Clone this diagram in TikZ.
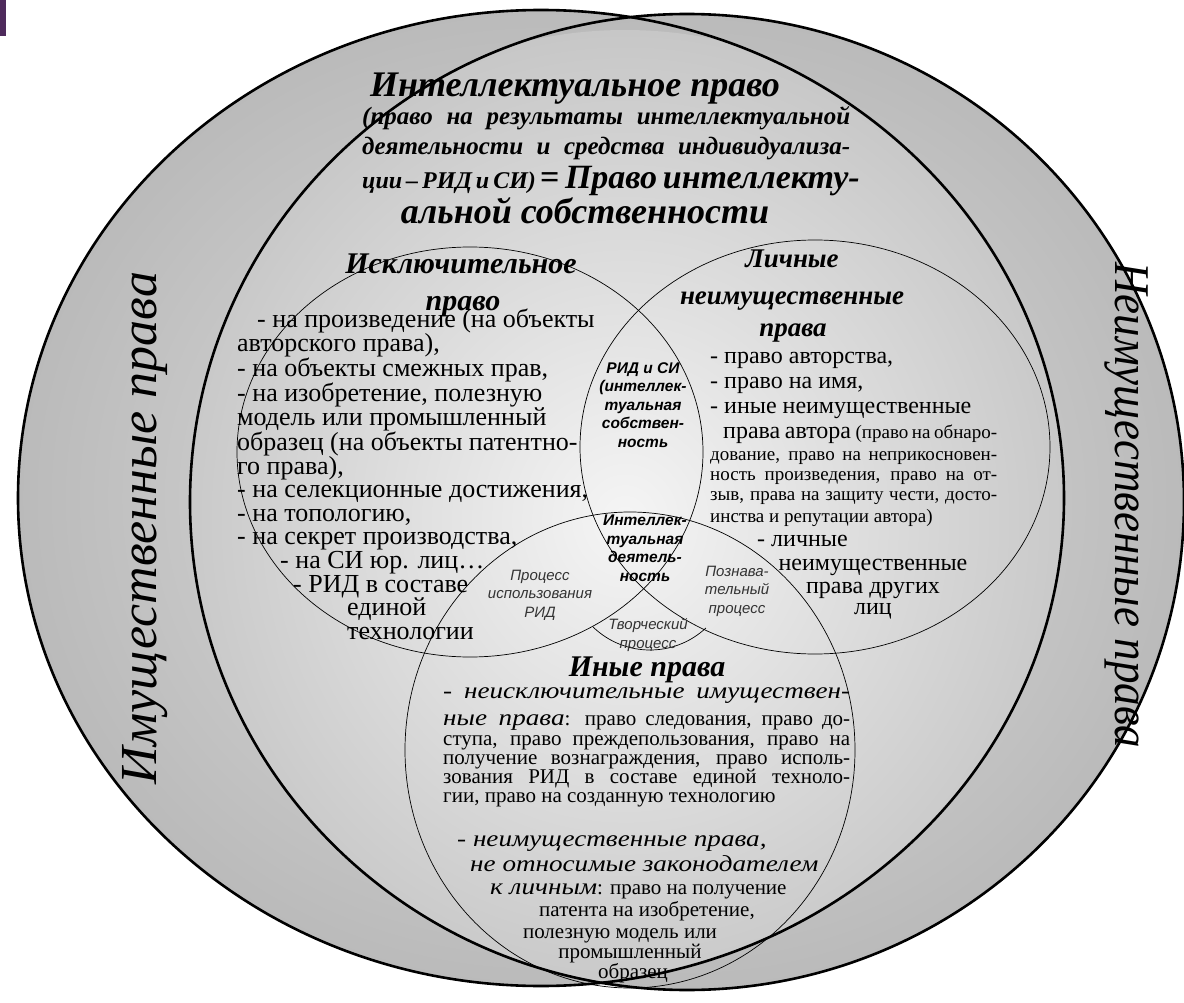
\documentclass[tikz,border=0pt]{standalone}
\usepackage{fontspec}
\setmainfont{Liberation Serif}
\newfontfamily\arialfont{Liberation Sans}
\newfontfamily\wideserif{Liberation Serif}[FakeStretch=1.18]
\newfontfamily\narrowserif{Liberation Serif}[FakeStretch=0.9]
\definecolor{barpurple}{HTML}{4E2A5C}

\begin{document}
\begin{tikzpicture}[x=1pt, y=-1pt,
    bigoval/.style={draw=black, line width=2.6pt},
    thinoval/.style={draw=black, line width=0.7pt},
    headtext/.style={font=\bfseries\itshape\fontsize{30}{33}\selectfont, inner sep=0pt},
    lichhead/.style={font=\bfseries\itshape\fontsize{27}{30}\selectfont, inner sep=0pt},
    bighead/.style={font=\bfseries\itshape\fontsize{36}{38}\selectfont, inner sep=0pt},
    subhead/.style={font=\bfseries\itshape\fontsize{25}{28}\selectfont, inner sep=0pt},
    bodytext/.style={font=\fontsize{24}{21.7}\selectfont, inner sep=0pt},
    excltext/.style={font=\fontsize{26}{23.6}\selectfont, inner sep=0pt},
    smalltext/.style={font=\fontsize{19}{20}\selectfont, inner sep=0pt},
    otherstext/.style={font=\fontsize{21}{19}\selectfont, inner sep=0pt},
    otheritalic/.style={font=\wideserif\itshape\fontsize{23}{23}\selectfont, inner sep=0pt},
    tinytext/.style={font=\arialfont\itshape\fontsize{15}{18.5}\selectfont, align=center, inner sep=0pt, text=black!80},
    tinybold/.style={font=\arialfont\bfseries\itshape\fontsize{15.5}{18.5}\selectfont, align=center, inner sep=0pt},
    sidetext/.style={font=\itshape\fontsize{52}{52}\selectfont, inner sep=0pt}
  ]
  \useasboundingbox (0,0) rectangle (1184,1003);
  \fill[barpurple] (0,0) rectangle (6,36);

  % === Внешние овалы ===
  \coordinate (lc) at (541,498);
  \coordinate (rc) at (687,502);
  \shade[inner color=gray!25, outer color=gray!54] (lc) ellipse [x radius=523, y radius=488];
  \shade[inner color=gray!25, outer color=gray!54] (rc) ellipse [x radius=497, y radius=488];
  \begin{scope}
    \clip (lc) ellipse [x radius=523, y radius=488];
    \clip (rc) ellipse [x radius=497, y radius=488];
    \shade[inner color=gray!8, outer color=gray!44] (625,520) ellipse [x radius=460, y radius=490];
  \end{scope}
  \draw[bigoval] (lc) ellipse [x radius=523, y radius=488];
  \draw[bigoval] (rc) ellipse [x radius=497, y radius=488];

  % === Внутренние круги ===
  \draw[thinoval] (470,452) ellipse [x radius=233, y radius=205];
  \draw[thinoval] (815,447) ellipse [x radius=235, y radius=207];
  \draw[thinoval] (630,750) ellipse [x radius=225, y radius=238];
  \coordinate (tv) at (650,568);
  \draw[thinoval] ([shift={(134:82)}]tv) arc [start angle=134, end angle=47, radius=82];

  % === Интеллектуальное право ===
  \node[bighead, anchor=base] (ip1) at (575,97) {Интеллектуальное право};
  \node[subhead, anchor=base west] (ip2) at (362,125) {\makebox[488pt][s]{(право на результаты интеллектуальной}};
  \node[subhead, anchor=base west] (ip3) at (362,155) {\makebox[488pt][s]{деятельности и средства индивидуализа-}};
  \node[subhead, anchor=base west] (ip4) at (362,189) {\makebox[488pt][s]{\fontsize{24}{28}\selectfont ции – РИД и СИ) {\fontsize{34}{36}\selectfont= Право интеллекту-}}};
  \node[bighead, anchor=base] (ip5) at (585,224) {альной собственности};

  % === Исключительное право ===
  \node[headtext, anchor=base] (isk1) at (461,273) {Исключительное};
  \node[headtext, anchor=base] (isk2) at (463,310) {право};
  \node[excltext, align=left, anchor=north west] (isk3) at (237,309) {%
    \hspace*{20pt}- на произведение (на объекты\\
    авторского права),\\
    - на объекты смежных прав,\\
    - на изобретение, полезную\\
    модель или промышленный\\
    образец (на объекты патентно-\\
    го права),\\
    - на селекционные достижения,\\
    - на топологию,\\
    - на секрет производства,\\
    \hspace*{43pt}- на СИ юр. лиц…\\
    \hspace*{56pt}- РИД в составе\\
    \hspace*{110pt}единой\\
    \hspace*{110pt}технологии};

  % === Личные неимущественные права ===
  \node[lichhead, anchor=base] (lich1) at (792,268) {Личные};
  \node[lichhead, anchor=base] (lich2) at (792,305) {неимущественные};
  \node[lichhead, anchor=base] (lich3) at (793,336) {права};
  \node[bodytext, anchor=base west] (lich4) at (710,363) {- право авторства,};
  \node[bodytext, anchor=base west] (lich5) at (710,388) {- право на имя,};
  \node[bodytext, anchor=base west] (lich6) at (710,413) {- иные неимущественные};
  \node[bodytext, anchor=base west] (lich7) at (723,438) {\makebox[274pt][s]{права автора {\fontsize{19}{20}\selectfont(право на обнаро-}}};
  \node[smalltext, anchor=base west] (lich8) at (710,460) {\makebox[287pt][s]{дование, право на неприкосновен-}};
  \node[smalltext, anchor=base west] (lich9) at (710,480) {\makebox[287pt][s]{ность произведения, право на от-}};
  \node[smalltext, anchor=base west] (lich10) at (710,500) {\makebox[287pt][s]{зыв, права на защиту чести, досто-}};
  \node[smalltext, anchor=base west] (lich11) at (710,522) {инства и репутации автора)};
  \node[bodytext, anchor=base west] (lich12) at (757,546) {- личные};
  \node[bodytext, anchor=base] (lich13) at (873,570) {неимущественные};
  \node[bodytext, anchor=base] (lich14) at (873,593) {права других};
  \node[bodytext, anchor=base] (lich15) at (873,614) {лиц};

  % === Подписи пересечений ===
  \node[tinybold] (rid) at (643,405) {РИД и СИ\\(интеллек-\\туальная\\собствен-\\ность};
  \node[tinybold] (intd) at (645,548) {Интеллек-\\туальная\\деятель-\\ность};
  \node[tinytext] (proc) at (540,595) {Процесс\\использования\\РИД};
  \node[tinytext] (pozn) at (737,591) {Познава-\\тельный\\процесс};
  \node[tinytext] (tvor) at (648,635) {Творческий\\процесс};

  % === Иные права ===
  \node[headtext, anchor=base] (in1) at (647,676) {Иные права};
  \node[otherstext, anchor=base west] (in2) at (443,698) {\makebox[407pt][s]{{\wideserif\itshape\fontsize{23}{23}\selectfont - неисключительные имуществен-}}};
  \node[otherstext, anchor=base west] (in3) at (443,725) {\makebox[407pt][s]{{\wideserif\itshape\fontsize{23}{23}\selectfont ные права}: право следования, право до-}};
  \node[otherstext, anchor=base west] (in4) at (443,745) {\makebox[407pt][s]{ступа, право преждепользования, право на}};
  \node[otherstext, anchor=base west] (in5) at (443,764) {\makebox[407pt][s]{получение вознаграждения, право исполь-}};
  \node[otherstext, anchor=base west] (in6) at (443,783) {\makebox[407pt][s]{зования РИД в составе единой техноло-}};
  \node[otherstext, anchor=base west] (in7) at (443,802) {гии, право на созданную технологию};
  \node[otheritalic, anchor=base west] (in8) at (457,846) {- неимущественные права,};
  \node[otheritalic, anchor=base west] (in9) at (470,871) {не относимые законодателем};
  \node[otherstext, anchor=base west] (in10) at (490,894) {{\wideserif\itshape\fontsize{23}{23}\selectfont к личным}: право на получение};
  \node[otherstext, anchor=base] (in11) at (647,916) {патента на изобретение,};
  \node[otherstext, anchor=base] (in12) at (620,938) {полезную модель или};
  \node[otherstext, anchor=base] (in13) at (630,958) {промышленный};
  \node[otherstext, anchor=base] (in14) at (633,978) {образец};

  % === Боковые подписи ===
  \node[sidetext, rotate=90] (imu) at (145,528) {Имущественные права};
  \node[sidetext, font=\narrowserif\itshape\fontsize{50}{50}\selectfont, rotate=-90] (neimu) at (1126,505) {Неимущественные права};
\end{tikzpicture}
\end{document}
